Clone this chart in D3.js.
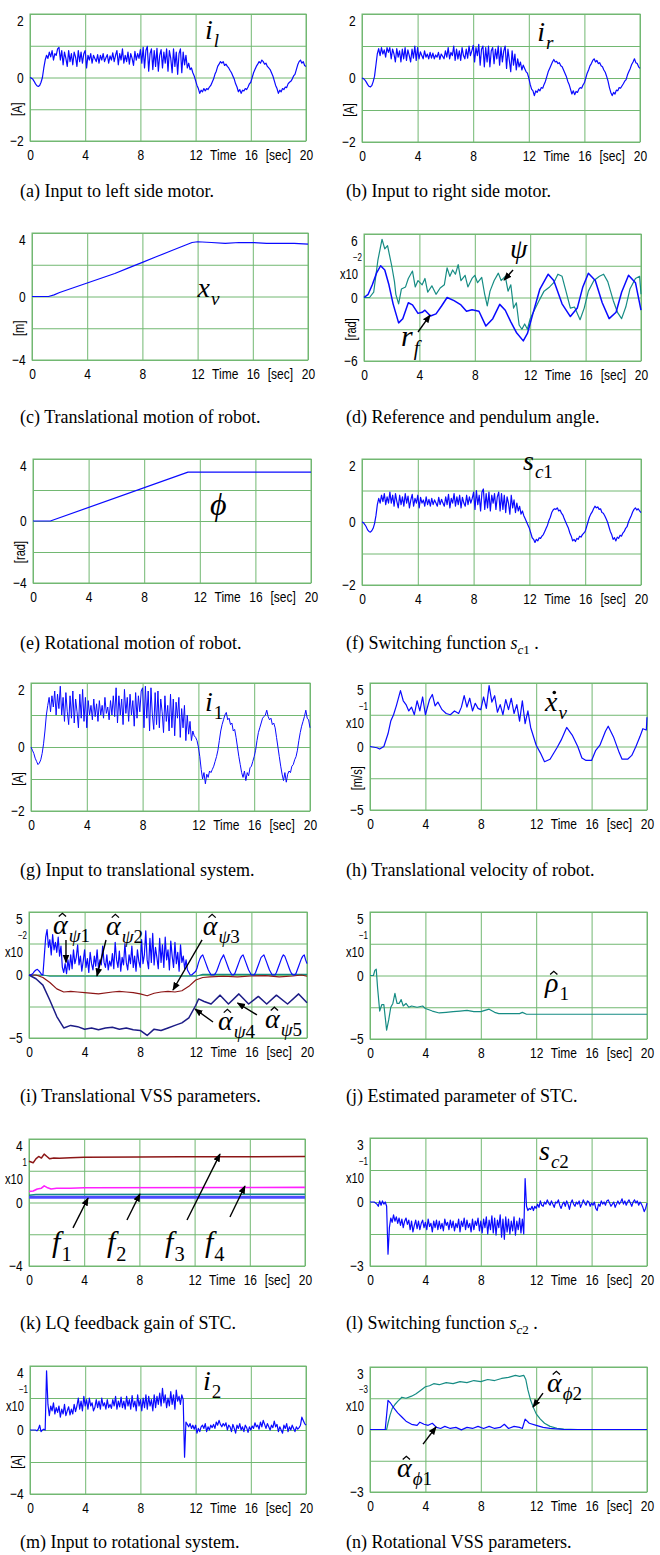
<!DOCTYPE html>
<html>
<head>
<meta charset="utf-8">
<script src="https://cdn.jsdelivr.net/npm/d3@7"></script>
<style>
body { margin: 0; background: #fff; }
svg { display: block; }
</style>
</head>
<body>
<svg id="fig" width="660" height="1555"></svg>
<script>
// plain arrays are sampled every 0.1 sec (201 values, 0..20 s); pair arrays are [sec, value]
var T_STEP = 0.1;
var xTicks = [0, 4, 8, 12, 16, 20];

var ilData = [
  0, -0.02, -0.05, -0.12, -0.2, -0.26, -0.28, -0.25, -0.15, 0.0,
  0.3, 0.55, 0.7, 0.6, 0.8, 0.65, 0.85, 0.55, 0.75, 0.7,
  0.9, 0.95, 0.55, 0.85, 0.4, 0.8, 0.6, 0.35, 0.85, 0.5,
  0.75, 0.4, 0.8, 0.65, 0.35, 0.85, 0.5, 0.8, 0.45, 0.75,
  0.85, 0.3, 0.7, 0.55, 0.75, 0.45, 0.7, 0.6, 0.5, 0.72,
  0.45, 0.7, 0.55, 0.75, 0.5, 0.62, 0.72, 0.45, 0.68, 0.55,
  0.78, 0.5, 0.7, 0.85, 0.4, 0.75, 0.55, 0.9, 0.45, 0.7,
  0.5, 0.8, 0.42, 0.75, 0.6, 0.38, 0.82, 0.55, 0.75, 0.6,
  0.88, 0.45, 0.95, 0.3, 0.85, 0.98, 0.2, 0.75, 0.9, 0.25,
  0.85, 0.35, 0.92, 0.2, 0.7, 0.88, 0.3, 0.8, 0.45, 0.9,
  0.2, 0.85, 0.6, 0.15, 0.9, 0.35, 0.8, 0.1, 0.75, 0.9,
  0.15, 0.8, 0.4, 0.7, 0.3, 0.45, 0.25, 0.3, 0.15, 0.05,
  -0.1, -0.25, -0.35, -0.5, -0.4, -0.45, -0.35, -0.42, -0.35, -0.38,
  -0.3, -0.25, -0.15, -0.05, 0.1, 0.2, 0.35, 0.42, 0.5, 0.45,
  0.5, 0.38, 0.42, 0.35, 0.3, 0.22, 0.15, 0.05, -0.05, -0.2,
  -0.3, -0.45, -0.38, -0.5, -0.4, -0.42, -0.35, -0.38, -0.3, -0.2,
  -0.15, 0.0, 0.15, 0.25, 0.35, 0.42, 0.5, 0.45, 0.55, 0.5,
  0.42, 0.45, 0.35, 0.3, 0.25, 0.15, 0.05, -0.1, -0.25, -0.35,
  -0.5, -0.4, -0.45, -0.35, -0.38, -0.3, -0.32, -0.2, -0.15, -0.12,
  -0.05, 0.05, 0.1, 0.25, 0.4, 0.5, 0.55, 0.45, 0.5, 0.38,
  0.35];

var irData = [
  0, -0.02, -0.06, -0.12, -0.2, -0.26, -0.28, -0.24, -0.12, 0.05,
  0.4, 0.75, 0.92, 0.7, 0.95, 0.75, 0.88, 0.65, 0.95, 0.8,
  0.95, 0.6, 0.9, 0.75, 0.5, 0.92, 0.65, 0.85, 0.5, 0.9,
  0.6, 0.95, 0.55, 0.88, 0.7, 0.5, 0.9, 0.62, 1.0, 0.55,
  0.95, 0.6, 0.82, 0.7, 0.6, 0.85, 0.65, 0.75, 0.6, 0.8,
  0.62, 0.78, 0.6, 0.72, 0.65, 0.8, 0.58, 0.75, 0.68, 0.6,
  0.85, 0.65, 0.95, 0.6, 0.8, 0.7, 1.0, 0.55, 0.9, 0.6,
  0.85, 0.55, 0.95, 0.7, 0.6, 0.9, 0.62, 1.0, 0.7, 0.85,
  1.02, 0.5, 0.95, 0.7, 1.05, 0.4, 0.9, 1.0, 0.35, 0.95,
  0.5, 1.0, 0.35, 0.85, 0.95, 0.45, 0.9, 0.6, 1.0, 0.4,
  0.95, 0.5, 0.85, 1.0, 0.3, 0.9, 0.55, 0.2, 0.85, 0.4,
  0.75, 0.25, 0.6, 0.35, 0.5, 0.25, 0.4, 0.3, 0.2, 0.15,
  0.0, -0.2, -0.35, -0.4, -0.55, -0.4, -0.45, -0.35, -0.4, -0.3,
  -0.32, -0.2, -0.1, 0.05, 0.2, 0.3, 0.4, 0.5, 0.58, 0.5,
  0.52, 0.45, 0.48, 0.38, 0.35, 0.25, 0.15, 0.05, -0.1, -0.2,
  -0.35, -0.5, -0.4, -0.52, -0.42, -0.45, -0.35, -0.3, -0.32, -0.22,
  -0.15, 0.0, 0.15, 0.25, 0.38, 0.45, 0.55, 0.6, 0.5, 0.55,
  0.45, 0.48, 0.38, 0.35, 0.25, 0.18, 0.05, -0.1, -0.3, -0.45,
  -0.55, -0.45, -0.5, -0.38, -0.4, -0.3, -0.32, -0.25, -0.18, -0.1,
  -0.05, 0.1, 0.2, 0.3, 0.42, 0.5, 0.6, 0.48, 0.45, 0.35,
  0.3];

var xvData = [[0, 0], [1.2, 0], [1.6, 0.1], [2, 0.25], [3, 0.55], [4, 0.85], [5, 1.15],
  [6, 1.45], [7, 1.8], [8, 2.15], [9, 2.5], [10, 2.85], [11, 3.2], [11.6, 3.4], [12, 3.45],
  [13, 3.4], [14, 3.35], [15, 3.4], [16, 3.4], [17, 3.35], [18, 3.35], [19, 3.35], [20, 3.3]];

var rfData = [[0, 0], [0.3, 0.3], [0.6, 1.2], [0.9, 2.3], [1.2, 3.0], [1.5, 2.6], [1.8, 1.2],
  [2.1, -0.6], [2.5, -2.4], [2.8, -2.0], [3.2, -0.5], [3.5, -0.7], [3.9, -1.5], [4.2, -1.4],
  [4.4, -1.2], [4.8, -1.75], [5.2, -1.55], [5.6, -0.8], [6.0, 0.0], [6.5, -0.3], [7.0, -0.7],
  [7.4, -1.3], [7.8, -1.15], [8.3, -1.3], [8.8, -2.7], [9.3, -2.0], [9.8, -0.65], [10.2, -1.2],
  [10.6, -2.3], [11.0, -3.3], [11.5, -4.1], [11.8, -3.4], [12.2, -1.5], [12.7, 0.8], [13.3, 2.2],
  [13.7, 1.6], [14.3, -0.6], [14.9, -1.8], [15.4, -1.0], [15.8, 1.0], [16.2, 2.3], [16.7, 1.6],
  [17.2, -0.5], [17.7, -2.0], [18.2, -1.4], [18.6, 0.5], [19.1, 2.1], [19.6, 1.4], [20, -1.2]];

var psiData = [[0, 0], [0.4, 0], [0.7, 0.5], [1.0, 3.5], [1.3, 5.5], [1.5, 4.6], [1.7, 4.9],
  [2.0, 3.0], [2.2, 1.5], [2.3, 0.3], [2.5, -0.6], [2.7, 0.8], [3.0, 1.0], [3.2, 1.8], [3.5, 2.5],
  [3.7, 1.0], [3.9, 1.6], [4.2, 1.2], [4.4, 1.8], [4.6, 0.5], [4.9, 1.1], [5.2, 0.3], [5.5, 0.9],
  [5.8, 1.2], [6.0, 2.8], [6.2, 2.0], [6.4, 2.6], [6.6, 2.2], [6.8, 3.1], [7.0, 1.6], [7.3, 2.1],
  [7.5, 1.0], [7.8, 1.8], [8.0, 2.1], [8.2, 1.4], [8.5, 1.9], [8.7, 0.4], [8.9, -0.8], [9.1, 0.6],
  [9.4, 1.6], [9.7, 2.3], [9.9, 1.6], [10.2, 2.0], [10.4, 0.6], [10.6, 1.2], [10.8, -1.0],
  [11.0, -0.5], [11.2, -2.6], [11.4, -3.0], [11.6, -2.5], [11.8, -3.0], [12.0, -2.0], [12.3, -1.2],
  [12.6, -0.4], [13.0, 0.6], [13.4, 1.0], [13.7, 1.4], [14.0, 2.2], [14.3, 2.0], [14.6, 0.5],
  [14.9, -1.0], [15.2, -0.9], [15.6, -2.1], [15.9, -1.0], [16.2, 0.6], [16.6, 1.6], [17.0, 2.0],
  [17.3, 2.2], [17.6, 1.5], [18.0, -0.3], [18.3, -1.4], [18.6, -2.0], [18.9, -0.9], [19.2, 0.8],
  [19.6, 1.8], [19.9, 2.0], [20, 0.3]];

var phiData = [[0, 0], [1.25, 0], [11.15, 3.15], [20, 3.15]];

var sc1Data = [
  0, -0.02, -0.08, -0.15, -0.25, -0.3, -0.32, -0.28, -0.2, -0.05,
  0.2, 0.55, 0.75, 0.6, 0.85, 0.65, 0.9, 0.55, 0.8, 0.6,
  0.95, 0.6, 0.85, 0.5, 0.9, 0.65, 0.45, 0.85, 0.55, 0.8,
  0.5, 0.9, 0.6, 0.82, 0.45, 0.7, 0.88, 0.5, 0.75, 0.6,
  0.85, 0.45, 0.78, 0.6, 0.7, 0.5, 0.8, 0.55, 0.72, 0.5,
  0.75, 0.55, 0.7, 0.6, 0.5, 0.78, 0.55, 0.72, 0.6, 0.5,
  0.8, 0.55, 0.88, 0.45, 0.75, 0.6, 0.9, 0.5, 0.8, 0.55,
  0.85, 0.45, 0.78, 0.6, 0.5, 0.85, 0.55, 0.8, 0.6, 0.75,
  0.95, 0.4, 1.0, 0.55, 0.85, 0.35, 0.95, 1.05, 0.4, 0.9,
  0.45, 0.95, 0.35, 0.85, 0.6, 0.9, 0.4, 0.8, 0.95, 0.35,
  0.9, 0.4, 0.85, 0.3, 0.8, 0.6, 0.25, 0.85, 0.45, 0.7,
  0.3, 0.6, 0.35, 0.5, 0.25, 0.35, 0.2, 0.1, 0.0, -0.1,
  -0.2, -0.35, -0.5, -0.55, -0.65, -0.55, -0.6, -0.5, -0.52, -0.45,
  -0.4, -0.3, -0.2, -0.1, 0.05, 0.15, 0.3, 0.38, 0.42, 0.4,
  0.45, 0.35, 0.38, 0.28, 0.22, 0.1, 0.0, -0.1, -0.2, -0.35,
  -0.45, -0.6, -0.55, -0.62, -0.52, -0.55, -0.45, -0.48, -0.4, -0.35,
  -0.3, -0.15, 0.0, 0.15, 0.25, 0.32, 0.42, 0.5, 0.45, 0.48,
  0.4, 0.42, 0.3, 0.28, 0.2, 0.1, 0.0, -0.15, -0.3, -0.4,
  -0.55, -0.5, -0.6, -0.48, -0.52, -0.42, -0.45, -0.35, -0.3, -0.2,
  -0.15, 0.0, 0.1, 0.2, 0.32, 0.4, 0.45, 0.38, 0.42, 0.35,
  0.3];

var i1Data = [
  0, -0.1, -0.2, -0.35, -0.45, -0.55, -0.5, -0.4, -0.2, 0.1,
  0.5, 1.0, 1.3, 1.55, 1.1, 1.6, 1.25, 1.75, 1.0, 1.65,
  1.2, 1.9, 1.0, 1.55, 0.8, 1.7, 1.1, 0.7, 1.6, 0.9,
  1.75, 0.75, 1.5, 1.1, 0.6, 1.65, 0.9, 1.8, 0.8, 1.55,
  0.6, 1.45, 1.0, 1.3, 0.85, 1.5, 0.95, 1.35, 0.8, 1.45,
  1.0, 1.3, 0.9, 1.55, 1.05, 1.25, 0.85, 1.45, 1.0, 1.6,
  0.95, 1.85, 0.75, 1.6, 1.0, 1.5, 0.7, 1.8, 1.05, 1.55,
  0.8, 1.65, 1.0, 1.45, 0.65, 1.7, 0.9, 1.6, 1.1, 1.75,
  1.85, 0.6, 1.9, 0.9, 1.75, 0.5, 1.85, 1.0, 0.55, 1.7,
  0.7, 1.75, 0.6, 1.5, 1.1, 0.45, 1.6, 0.8, 1.3, 0.5,
  1.65, 0.6, 1.5, 0.35, 1.4, 0.9, 1.55, 0.3, 1.2, 0.6,
  1.3, 0.2, 1.0, 0.4, 0.8, 0.2, 0.5, 0.35, 0.3, 0.2,
  0.0, -0.3, -0.7, -1.0, -0.8, -1.15, -0.85, -0.95, -0.75, -0.8,
  -0.7, -0.6, -0.45, -0.3, -0.1, 0.2, 0.5, 0.7, 0.85, 1.0,
  1.08, 0.85, 0.9, 0.7, 0.75, 0.5, 0.55, 0.3, 0.0, -0.3,
  -0.55, -0.8, -0.95, -0.75, -1.05, -0.8, -0.9, -0.65, -0.6, -0.45,
  -0.3, -0.1, 0.2, 0.45, 0.6, 0.75, 0.9, 0.95, 1.0, 1.15,
  0.95, 0.85, 0.9, 0.7, 0.75, 0.6, 0.3, 0.0, -0.3, -0.6,
  -0.85, -1.05, -0.8, -1.1, -0.85, -0.75, -0.8, -0.6, -0.55, -0.4,
  -0.3, -0.1, 0.2, 0.45, 0.65, 0.8, 0.95, 1.15, 0.9, 0.85,
  0.6];

var xdotData = [[0, 0], [0.5, -0.1], [0.7, -0.2], [1.0, 0.0], [1.3, 1.0], [1.5, 2.0], [1.7, 2.5],
  [1.9, 3.2], [2.2, 4.4], [2.4, 3.6], [2.6, 3.3], [2.8, 2.8], [3.0, 3.1], [3.2, 2.5], [3.4, 3.6],
  [3.6, 2.8], [3.8, 3.9], [4.0, 2.5], [4.3, 3.7], [4.5, 4.1], [4.7, 3.2], [4.9, 3.5], [5.2, 2.9],
  [5.5, 2.6], [5.8, 2.5], [6.1, 2.8], [6.4, 2.6], [6.6, 3.1], [6.8, 4.0], [7.0, 3.1], [7.2, 3.8],
  [7.4, 2.8], [7.6, 3.4], [7.8, 3.0], [8.0, 2.9], [8.2, 3.9], [8.4, 3.0], [8.6, 4.8], [8.8, 3.5],
  [9.0, 4.0], [9.2, 2.7], [9.4, 3.3], [9.6, 2.5], [9.8, 3.7], [10.0, 2.9], [10.2, 3.8], [10.4, 2.6],
  [10.6, 3.3], [10.8, 2.0], [11.0, 3.6], [11.2, 1.8], [11.4, 2.8], [11.6, 1.5], [12.0, 0.1],
  [12.3, -0.5], [12.6, -1.2], [13.0, -1.0], [13.5, -0.1], [13.8, 0.5], [14.2, 1.5], [14.6, 0.9],
  [15.0, 0.0], [15.3, -0.9], [15.6, -1.1], [16.0, -1.1], [16.3, -0.3], [16.6, 0.1], [17.0, 1.2],
  [17.2, 1.6], [17.6, 0.7], [18.0, -0.5], [18.2, -1.0], [18.6, -1.0], [18.9, -0.7], [19.2, 0.0],
  [19.5, 0.8], [19.7, 1.4], [19.95, 1.3], [20, 2.3]];

var aPsi1Data = [
  0, 0, 0.05, 0.15, 0.3, 0.4, 0.45, 0.35, 0.2, 0.05,
  0.0, 1.5, 3.0, 3.6, 2.2, 2.8, 1.6, 3.2, 2.0, 2.6,
  1.8, 3.0, 1.5, 2.3, 0.6, 0.2, 0.9, 0.1, 1.2, 0.4,
  1.6, 0.5, 2.0, 0.9, 1.4, 2.4, 0.8, 1.5, 0.3, 1.1,
  2.0, 0.6, 1.3, 0.2, 1.8, 0.9, 0.4, 1.5, 0.7, 2.0,
  0.5, 1.2, 0.8, 2.3, 1.0, 0.6, 1.6, 0.4, 1.1, 0.7,
  1.7, 0.5, 2.6, 1.2, 0.6, 1.9, 0.3, 1.4, 0.8, 2.5,
  1.0, 0.4, 1.6, 0.9, 2.3, 0.6, 1.5, 0.3, 2.0, 1.1,
  0.6, 2.8, 0.9, 1.6, 3.5, 1.2, 0.5, 2.9, 1.0, 3.3,
  0.8, 2.2, 1.4, 0.5, 2.9, 1.0, 2.4, 0.6, 3.0, 1.2,
  2.0, 0.4, 2.7, 1.5, 0.6, 2.6, 0.9, 1.8, 0.3, 2.4,
  1.0, 1.5, 0.5, 1.2, 0.4, 0.2, 0.0, 0.0, 0.1, 0.2,
  0.3, 0.6, 1.0, 1.3, 1.5, 1.6, 1.3, 1.0, 0.7, 0.4,
  0.2, 0.0, 0.0, 0.0, 0.1, 0.3, 0.6, 0.9, 1.2, 1.4,
  1.6, 1.3, 1.0, 0.7, 0.4, 0.2, 0.0, 0.0, 0.1, 0.4,
  0.7, 1.0, 1.3, 1.5, 1.6, 1.3, 1.0, 0.7, 0.4, 0.2,
  0.0, 0.0, 0.0, 0.2, 0.5, 0.8, 1.1, 1.4, 1.5, 1.6,
  1.3, 1.0, 0.7, 0.4, 0.2, 0.0, 0.0, 0.0, 0.2, 0.5,
  0.8, 1.1, 1.4, 1.6, 1.5, 1.2, 0.9, 0.6, 0.3, 0.1,
  0.0, 0.0, 0.1, 0.4, 0.7, 1.0, 1.3, 1.5, 1.6, 1.2,
  0.9];

var aPsi2Data = [[0, 0], [1, 0], [1.5, -0.1], [12, -0.1], [12.5, 0.05], [20, 0.05]];

var aPsi3Data = [[0, 0], [0.5, 0], [1, -0.2], [1.5, -0.6], [2, -1.1], [2.5, -1.35], [3, -1.3],
  [3.5, -1.35], [4, -1.4], [5, -1.5], [6, -1.35], [6.5, -1.3], [7, -1.35], [7.5, -1.4], [8, -1.5],
  [8.5, -1.65], [9, -1.45], [9.5, -1.35], [10, -1.3], [10.5, -1.35], [11, -1.25], [11.5, -0.9],
  [12, -0.4], [12.5, -0.2], [13, -0.15], [14, -0.1], [15, -0.15], [16, -0.08], [17, -0.05],
  [18, -0.15], [19, -0.08], [19.6, 0], [20, -0.1]];

var aPsi45Data = [[0, 0], [0.5, -0.3], [1, -0.8], [1.5, -2.0], [2, -3.3], [2.5, -4.2], [3, -4.0],
  [3.5, -4.1], [4, -4.3], [4.5, -4.2], [5, -4.35], [5.5, -4.2], [6, -4.15], [6.5, -4.3], [7, -4.2],
  [7.5, -4.35], [8, -4.4], [8.5, -4.8], [9, -4.3], [9.5, -4.4], [10, -4.2], [10.5, -4.0], [11, -3.8],
  [11.5, -3.4], [12, -2.4], [12.2, -1.9], [12.6, -2.1], [13.1, -2.3], [13.75, -1.6], [14.35, -2.3],
  [15.1, -1.5], [15.8, -2.3], [16.5, -1.7], [17.1, -2.3], [17.8, -1.6], [18.6, -2.3], [19.4, -1.5],
  [20, -2.2]];

var rho1Data = [[0, 0], [0.25, 0], [0.35, 0.4], [0.45, 0.5], [0.55, -1.0], [0.7, -2.8], [0.85, -2.3],
  [1.0, -2.3], [1.1, -3.3], [1.2, -4.3], [1.35, -3.5], [1.5, -2.5], [1.65, -2.2], [1.8, -1.4],
  [1.95, -2.2], [2.1, -2.2], [2.25, -1.9], [2.4, -2.4], [2.6, -2.2], [2.8, -2.5], [3.0, -2.4],
  [3.4, -2.5], [3.8, -2.4], [4.0, -2.6], [4.5, -2.8], [5.0, -2.95], [5.5, -2.9], [6.0, -2.85],
  [6.5, -2.8], [7.0, -2.75], [7.5, -2.85], [8.0, -2.85], [8.3, -2.75], [8.6, -2.65], [9.0, -2.9],
  [9.3, -3.0], [10, -3.0], [10.8, -3.0], [11.0, -2.9], [11.3, -3.05], [20, -3.05]];

var f1Data = [[0, 0.33], [20, 0.33]];
var f2Data = [[0, 0.45], [0.5, 0.5], [20, 0.52]];
var f3Data = [[0, 2.6], [0.3, 2.5], [0.5, 2.75], [0.7, 2.9], [0.9, 2.8], [1.1, 3.05], [1.3, 2.9],
  [1.5, 2.75], [1.8, 2.8], [2.2, 2.78], [3, 2.82], [4, 2.85], [8, 2.86], [11, 2.88], [20, 2.89]];
var f4Data = [[0, 0.7], [0.3, 0.72], [0.6, 0.85], [0.9, 0.9], [1.1, 1.05], [1.3, 0.95], [1.6, 0.85],
  [2.0, 0.9], [3, 0.9], [4, 0.93], [20, 0.95]];

var sc2Data = [
  0, 0, 0, 0, -0.05, -0.1, -0.2, 0.05, -0.15, 0.05,
  -0.1, 0.0, -0.2, -2.45, -1.2, -0.75, -0.95, -0.6, -0.9, -0.7,
  -1.0, -0.75, -1.1, -0.8, -1.2, -0.9, -0.75, -1.05, -0.85, -1.3,
  -0.9, -1.4, -1.1, -0.85, -1.25, -0.9, -1.3, -1.0, -0.85, -1.2,
  -0.95, -1.3, -0.8, -1.15, -1.0, -1.4, -0.9, -1.2, -0.85, -1.3,
  -0.9, -1.25, -1.0, -1.35, -0.8, -1.1, -0.95, -1.3, -0.85, -1.2,
  -0.9, -1.35, -1.0, -1.2, -0.8, -1.4, -0.9, -1.15, -0.75, -1.3,
  -0.85, -1.2, -1.0, -1.4, -0.8, -1.3, -0.9, -1.1, -0.75, -1.35,
  -0.9, -1.45, -0.8, -1.2, -0.7, -1.5, -0.85, -1.3, -0.65, -1.45,
  -0.75, -1.55, -0.85, -1.2, -0.6, -1.65, -0.8, -1.75, -0.7, -1.4,
  -0.8, -1.5, -0.9, -1.35, -0.7, -1.55, -0.9, -1.3, -0.75, -1.45,
  -0.8, -1.5, 1.1, -0.2, -0.4, -0.3, -0.35, -0.2, -0.4, -0.2,
  -0.3, -0.1, -0.25, 0.05, -0.15, -0.2, 0.0, -0.1, 0.1, -0.05,
  -0.15, 0.05, -0.1, -0.25, 0.0, -0.05, 0.1, -0.15, -0.3, -0.1,
  0.0, -0.2, 0.05, -0.1, -0.35, -0.05, 0.1, -0.1, -0.2, 0.0,
  -0.1, 0.05, -0.25, -0.1, 0.1, -0.05, -0.15, 0.05, 0.0, -0.2,
  -0.05, -0.15, 0.0, -0.3, -0.4, -0.1, -0.2, 0.05, -0.1, 0.0,
  -0.15, 0.05, 0.1, -0.05, -0.2, -0.1, 0.0, -0.25, -0.1, 0.05,
  -0.1, 0.0, 0.15, -0.1, 0.05, -0.15, 0.0, 0.1, -0.05, -0.2,
  0.0, 0.1, -0.05, 0.05, -0.15, 0.0, -0.1, -0.25, -0.45, -0.3,
  -0.05];

var i2Data = [
  0, 0, 0, 0, 0, -0.05, 0.05, 0.3, -0.1, 0.0,
  0.05, 0.0, 3.7, 1.6, 0.9, 1.5, 1.2, 1.7, 1.0, 1.4,
  1.1, 1.5, 0.8, 1.3, 1.0, 1.6, 0.9, 1.2, 1.45, 0.95,
  1.3, 1.0, 1.6, 1.15, 1.5, 2.0, 1.3, 1.8, 1.2, 2.1,
  1.5, 1.9, 1.3, 2.0, 1.5, 1.7, 1.2, 1.4, 1.9, 1.4,
  1.8, 1.3, 2.0, 1.5, 1.7, 1.3, 1.9, 1.4, 1.6, 1.35,
  1.9, 1.5, 2.1, 1.3, 1.8, 1.45, 2.05, 1.4, 1.8, 1.3,
  2.1, 1.5, 1.9, 1.3, 2.15, 1.45, 1.8, 1.2, 2.2, 1.5,
  1.9, 1.2, 2.0, 1.4, 2.2, 1.3, 2.1, 1.5, 1.9, 1.2,
  2.2, 1.4, 2.1, 1.6, 2.3, 1.5, 2.6, 1.7, 2.2, 1.4,
  2.0, 1.5, 2.4, 1.6, 2.2, 1.3, 2.5, 1.8, 2.1, 1.6,
  2.2, 1.9, -1.7, 0.5, 0.35, 0.2, 0.4, 0.1, 0.3, 0.05,
  0.3, -0.2, 0.1, -0.1, 0.2, 0.3, 0.1, 0.4, -0.1, 0.2,
  0.0, 0.3, 0.15, 0.35, 0.1, 0.5, 0.3, 0.6, 0.35, 0.2,
  0.4, 0.25, 0.45, 0.0, 0.3, 0.2, -0.1, 0.35, 0.1, -0.2,
  0.3, 0.1, 0.4, 0.0, 0.2, -0.1, 0.3, 0.15, -0.15, 0.2,
  0.0, 0.25, 0.1, 0.45, 0.2, 0.3, 0.05, 0.5, 0.2, 0.6,
  0.35, 0.1, 0.4, 0.2, 0.0, 0.3, 0.15, 0.55, 0.2, 0.35,
  -0.1, 0.2, 0.0, -0.2, 0.3, 0.1, 0.4, -0.1, 0.2, 0.0,
  0.3, 0.1, -0.1, 0.2, 0.05, 0.15, 0.3, 0.8, 0.6, 0.4,
  0.3];

var aPhi1Data = [[0, 0], [1.1, 0], [1.3, 1.4], [1.5, 1.25], [1.7, 1.05], [2.0, 0.8], [2.3, 0.6],
  [2.6, 0.4], [3.0, 0.25], [3.4, 0.2], [3.6, 0.35], [3.9, 0.25], [4.2, 0.2], [4.5, 0.3], [4.8, 0.1],
  [5.1, 0.05], [5.4, 0.15], [5.8, 0.05], [6.2, 0.1], [6.6, -0.02], [7.0, 0.1], [7.4, 0.05],
  [7.8, 0.15], [8.2, 0.05], [8.6, 0.15], [9.0, 0.05], [9.4, 0.1], [9.7, 0.25], [10.0, 0.05],
  [10.4, 0.15], [10.8, 0.1], [11.0, 0.05], [11.2, 0.5], [11.5, 0.3], [12.0, 0.2], [12.5, 0.1],
  [13.0, 0.05], [14, 0], [20, 0]];

var aPhi2Data = [[0, 0], [1.2, 0], [1.3, 0.3], [1.45, 0.7], [1.6, 1.0], [1.8, 1.2], [2.0, 1.35],
  [2.3, 1.55], [2.6, 1.5], [3.0, 1.6], [3.3, 1.7], [3.6, 1.85], [4.0, 2.05], [4.3, 2.1], [4.6, 2.2],
  [5.0, 2.15], [5.5, 2.25], [6.0, 2.2], [6.5, 2.3], [7.0, 2.25], [7.5, 2.35], [8.0, 2.3], [8.5, 2.4],
  [9.0, 2.35], [9.5, 2.45], [10.0, 2.5], [10.5, 2.6], [10.8, 2.55], [11.1, 2.6], [11.25, 2.4],
  [11.4, 1.9], [11.6, 1.4], [11.8, 1.05], [12.0, 0.75], [12.3, 0.5], [12.6, 0.3], [13.0, 0.15],
  [13.5, 0.06], [14, 0.02], [15, 0], [20, 0]];

var BLUE = "#0a0aff", TEAL = "#168c84", DRED = "#8c1616", NAVY = "#1c1c86", MAG = "#ff20ff";
var GRID = "#72b872";
var SERIF = "'Liberation Serif','Times New Roman',serif";
var SANS = "'Liberation Sans',Arial,sans-serif";
var NARROW = "scale(0.8,1)";

var panels = [
  {cap: "(a) Input to left side motor.", box: [30, 14, 306, 141], capY: 197, ymax: 2, unit: "[A]",
   series: [{d: ilData, c: BLUE}],
   notes: [{t: 12.68, v: 1.21, b: "i", s: "l"}]},
  {cap: "(b) Input to right side motor.", box: [362, 14, 640, 142], capY: 197, ymax: 2, unit: "[A]",
   series: [{d: irData, c: BLUE}],
   notes: [{t: 12.6, v: 1.16, b: "i", s: "r"}]},
  {cap: "(c) Translational motion of robot.", box: [32, 233, 308, 360], capY: 423, ymax: 4, unit: "[m]",
   series: [{d: xvData, c: BLUE}],
   notes: [{t: 12, v: 0, b: "x", s: "v"}]},
  {cap: "(d) Reference and pendulum angle.", box: [364, 234, 641, 361], capY: 423, ymax: 6, exp: "−2", unit: "[rad]",
   series: [{d: psiData, c: TEAL}, {d: rfData, c: BLUE, w: 1.5}],
   notes: [{t: 10.54, v: 3.73, b: "ψ"}, {t: 2.67, v: -4.59, b: "r", s: "f", size: 30}],
   arrows: [[10.76, 2.6, 10.11, 1.65], [3.9, -3.26, 4.77, -1.66]]},
  {cap: "(e) Rotational motion of robot.", box: [33, 459, 311, 583], capY: 649, ymax: 4, unit: "[rad]",
   series: [{d: phiData, c: BLUE}],
   notes: [{t: 12.73, v: 0.39, b: "ϕ", size: 32}]},
  {cap: "(f) Switching function ", capMath: {b: "s", s: "c1"}, box: [362, 459, 641, 585], capY: 649, ymax: 2,
   series: [{d: sc1Data, c: BLUE}],
   notes: [{t: 11.54, v: 1.65, b: "s", s: "c1"}]},
  {cap: "(g) Input to translational system.", box: [31, 683, 310, 811], capY: 876, ymax: 2, unit: "[A]",
   series: [{d: i1Data, c: BLUE, w: 1}],
   notes: [{t: 12.47, v: 1.125, b: "i", s: "1"}]},
  {cap: "(h) Translational velocity of robot.", box: [370, 683, 647, 810], capY: 876, ymax: 5, exp: "−1", unit: "[m/s]",
   series: [{d: xdotData, c: BLUE}],
   notes: [{t: 12.64, v: 2.8, b: "x", s: "v", dot: true}]},
  {cap: "(i) Translational VSS parameters.", box: [29, 912, 307, 1038], capY: 1102, ymax: 5, exp: "−2",
   series: [{d: aPsi2Data, c: TEAL}, {d: aPsi3Data, c: DRED}, {d: aPsi45Data, c: NAVY, w: 1.5}, {d: aPsi1Data, c: BLUE}],
   notes: [{t: 1.73, v: 3.25, b: "α", s: "ψ1", hat: true}, {t: 5.54, v: 3.17, b: "α", s: "ψ2", hat: true},
           {t: 12.5, v: 3.17, b: "α", s: "ψ3", hat: true}, {t: 13.6, v: -4.37, b: "α", s: "ψ4", hat: true},
           {t: 16.98, v: -4.2, b: "α", s: "ψ5", hat: true}],
   arrows: [[2.66, 2.78, 2.66, 1.0], [5.54, 2.78, 4.89, -0.08], [12.45, 2.78, 10.36, -1.19],
            [13.24, -3.73, 11.94, -2.7], [16.4, -3.17, 15.0, -2.22]]},
  {cap: "(j) Estimated parameter of STC.", box: [370, 912, 647, 1039], capY: 1102, ymax: 5, exp: "−1",
   series: [{d: rho1Data, c: TEAL}],
   notes: [{t: 12.64, v: -1.3, b: "ρ", s: "1", hat: true}]},
  {cap: "(k) LQ feedback gain of STC.", box: [29, 1139, 305, 1266], capY: 1329, ymax: 4, exp: "1",
   series: [{d: f1Data, c: "#4a4aff", w: 3}, {d: f2Data, c: TEAL, w: 1.5}, {d: f4Data, c: MAG, w: 1.6}, {d: f3Data, c: DRED, w: 1.5}],
   notes: [{t: 1.67, v: -3.12, b: "f", s: "1", size: 30}, {t: 5.65, v: -3.12, b: "f", s: "2", size: 30},
           {t: 9.86, v: -3.12, b: "f", s: "3", size: 30}, {t: 12.75, v: -3.12, b: "f", s: "4", size: 30}],
   arrows: [[3.19, -1.6, 4.28, 0.28], [7.1, -1.1, 8.04, 0.54], [11.45, -1.1, 13.84, 3.05], [14.56, -0.91, 15.65, 1.04]]},
  {cap: "(l) Switching function ", capMath: {b: "s", s: "c2"}, box: [370, 1138, 647, 1266], capY: 1329, ymax: 3, exp: "−1",
   series: [{d: sc2Data, c: BLUE}],
   notes: [{t: 12.2, v: 1.97, b: "s", s: "c2"}]},
  {cap: "(m) Input to rotational system.", box: [30, 1366, 306, 1494], capY: 1548, ymax: 4, exp: "−1", unit: "[A]",
   series: [{d: i2Data, c: BLUE}],
   notes: [{t: 12.54, v: 2.5, b: "i", s: "2"}]},
  {cap: "(n) Rotational VSS parameters.", box: [370, 1367, 647, 1492], capY: 1548, ymax: 3, exp: "−3",
   series: [{d: aPhi2Data, c: TEAL}, {d: aPhi1Data, c: BLUE}],
   notes: [{t: 12.78, v: 1.8, b: "α", s: "ϕ2", hat: true}, {t: 1.95, v: -2.28, b: "α", s: "ϕ1", hat: true}],
   arrows: [[12.49, 1.75, 11.77, 1.08], [3.83, -0.7, 4.77, 0.12]]}
];

var svg = d3.select("#fig");

svg.append("defs").append("marker")
    .attr("id", "arrow")
    .attr("viewBox", "0 0 10 10")
    .attr("refX", 9).attr("refY", 5)
    .attr("markerWidth", 6).attr("markerHeight", 6)
    .attr("orient", "auto")
  .append("path")
    .attr("d", "M0,1L10,5L0,9z")
    .attr("fill", "#000");

function pts(arr) {
  if (typeof arr[0] === "number") return arr.map(function(v, i) { return [i * T_STEP, v]; });
  return arr;
}

function fmt(v) {
  return v < 0 ? "−" + (-v) : String(v);
}

// narrow sans label, scaled horizontally around its own anchor
function narrowText(g, px, py, str, size, anchor) {
  return g.append("text")
      .attr("transform", "translate(" + px + "," + py + ") " + NARROW)
      .attr("text-anchor", anchor || "middle")
      .attr("font-family", SANS).attr("font-size", size)
      .text(str);
}

function drawMath(g, px, py, n) {
  var size = n.size || 28;
  var base = g.append("text")
      .attr("x", px).attr("y", py)
      .attr("font-family", SERIF).attr("font-style", "italic")
      .attr("font-size", size)
      .text(n.b);
  var w = base.node().getComputedTextLength();
  var cx = px + w / 2 + 2;
  if (n.hat) {
    var top = py - size * 0.74, hw = size * 0.13;
    g.append("path")
        .attr("d", "M" + (cx - hw) + "," + (top + hw * 0.9) + "L" + cx + "," + top + "L" + (cx + hw) + "," + (top + hw * 0.9))
        .attr("fill", "none").attr("stroke", "#000").attr("stroke-width", 1.3);
  }
  if (n.dot) {
    g.append("circle")
        .attr("cx", cx + 1).attr("cy", py - size * 0.66)
        .attr("r", 1.8).attr("fill", "#000");
  }
  if (n.s) {
    var sub = g.append("text")
        .attr("x", px + w + 1).attr("y", py + size * 0.3)
        .attr("font-family", SERIF).attr("font-size", size * 0.68);
    n.s.split("").forEach(function(ch) {
      sub.append("tspan")
          .attr("font-style", /[0-9]/.test(ch) ? "normal" : "italic")
          .text(ch);
    });
  }
}

panels.forEach(function(p, idx) {
  var L = p.box[0], T = p.box[1], R = p.box[2], B = p.box[3];
  var x = d3.scaleLinear().domain([0, 20]).range([L, R]);
  var y = d3.scaleLinear().domain([-p.ymax, p.ymax]).range([B, T]);
  var g = svg.append("g").attr("class", "panel");

  //grid
  var gx = g.append("g")
      .attr("transform", "translate(0," + B + ")")
      .call(d3.axisBottom(x).tickValues(xTicks).tickSize(-(B - T)).tickFormat(""));
  gx.select(".domain").remove();
  gx.selectAll("line").attr("stroke", GRID);

  var gy = g.append("g")
      .attr("transform", "translate(" + L + ",0)")
      .call(d3.axisLeft(y).tickValues([-p.ymax, -p.ymax / 2, 0, p.ymax / 2, p.ymax]).tickSize(-(R - L)).tickFormat(""));
  gy.select(".domain").remove();
  gy.selectAll("line").attr("stroke", GRID);

  g.append("rect")
      .attr("x", L).attr("y", T)
      .attr("width", R - L).attr("height", B - T)
      .attr("fill", "none")
      .attr("stroke", GRID);

  //tick labels
  var xa = g.append("g")
      .attr("transform", "translate(0," + B + ")")
      .call(d3.axisBottom(x).tickValues(xTicks).tickSize(0).tickPadding(8));
  xa.select(".domain").remove();
  xa.attr("font-family", SANS).attr("font-size", 15);
  xa.selectAll("text").attr("transform", NARROW);
  narrowText(g, x(14), B + 19, "Time", 15);
  narrowText(g, x(18), B + 19, "[sec]", 15);

  var ya = g.append("g")
      .attr("transform", "translate(" + L + ",0)")
      .call(d3.axisLeft(y).tickValues([-p.ymax, 0, p.ymax]).tickSize(0).tickPadding(8).tickFormat(fmt));
  ya.select(".domain").remove();
  ya.attr("font-family", SANS).attr("font-size", 15);
  ya.selectAll("text")
      .attr("transform", NARROW)
      .attr("dy", function(d) { return d === p.ymax ? "0.75em" : "0.32em"; });

  if (p.exp) {
    narrowText(g, L - 6, y(p.ymax / 2) + 13, "x10", 14, "end");
    narrowText(g, L - 2, y(p.ymax / 2) - 5, p.exp, 10, "end");
  }
  if (p.unit) {
    g.append("text")
        .attr("transform", "translate(" + (L - 13) + "," + y(-p.ymax / 2) + ") rotate(-90) " + NARROW)
        .attr("text-anchor", "middle").attr("dy", "0.35em")
        .attr("font-family", SANS).attr("font-size", 14)
        .text(p.unit);
  }

  //data
  var line = d3.line()
      .x(function(d) { return x(d[0]); })
      .y(function(d) { return y(d[1]); });

  p.series.forEach(function(s) {
    g.append("path")
        .datum(pts(s.d))
        .attr("d", line)
        .attr("fill", "none")
        .attr("stroke", s.c)
        .attr("stroke-width", s.w || 1.2)
        .attr("stroke-linejoin", "round");
  });

  (p.notes || []).forEach(function(n) {
    drawMath(g, x(n.t), y(n.v), n);
  });

  (p.arrows || []).forEach(function(a) {
    g.append("line")
        .attr("x1", x(a[0])).attr("y1", y(a[1]))
        .attr("x2", x(a[2])).attr("y2", y(a[3]))
        .attr("stroke", "#000")
        .attr("stroke-width", 1.4)
        .attr("marker-end", "url(#arrow)");
  });

  //caption
  var cap = g.append("text")
      .attr("x", idx % 2 === 0 ? 20 : 346).attr("y", p.capY)
      .attr("font-family", SERIF).attr("font-size", 18)
      .text(p.cap);
  if (p.capMath) {
    cap.append("tspan").attr("font-style", "italic").text(p.capMath.b);
    var sub = cap.append("tspan").attr("dy", 5).attr("font-size", 13);
    p.capMath.s.split("").forEach(function(ch) {
      sub.append("tspan")
          .attr("font-style", /[0-9]/.test(ch) ? "normal" : "italic")
          .text(ch);
    });
    cap.append("tspan").attr("dy", -5).text(" .");
  }
});
</script>
</body>
</html>
